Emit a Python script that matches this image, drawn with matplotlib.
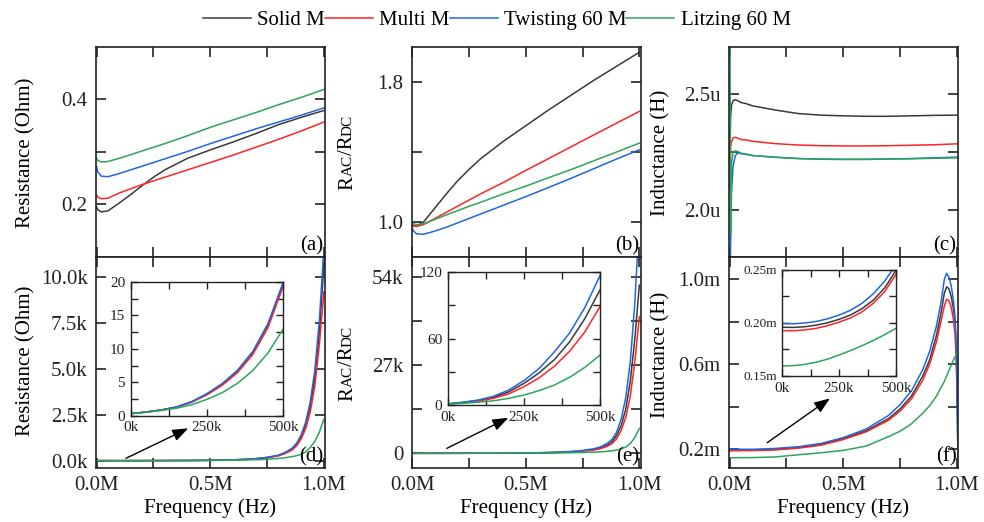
import matplotlib
matplotlib.use("Agg")
import matplotlib.pyplot as plt
from matplotlib.ticker import FixedLocator, MultipleLocator, FuncFormatter

plt.rcParams["font.family"] = ["Liberation Serif", "DejaVu Serif"]

names = ["Solid M", "Multi M", "Twisting 60 M", "Litzing 60 M"]
colors = ["#3a3a3a", "#ff2424", "#1f66e5", "#2ca55a"]

# (a) resistance, low range (Ohm) vs frequency (MHz)
xa = [0, 0.005, 0.02, 0.05, 0.1, 0.15, 0.2, 0.25, 0.3, 0.4, 0.5, 0.6, 0.7, 0.8, 0.9, 1.0]
res_solid = [0.195, 0.19, 0.186, 0.188, 0.203, 0.219, 0.236, 0.252, 0.266, 0.288, 0.304, 0.319, 0.335, 0.352, 0.366, 0.379]
res_multi = [0.218, 0.214, 0.211, 0.212, 0.222, 0.230, 0.238, 0.245, 0.252, 0.266, 0.280, 0.294, 0.309, 0.324, 0.340, 0.357]
res_twist = [0.272, 0.262, 0.254, 0.253, 0.259, 0.266, 0.273, 0.280, 0.287, 0.301, 0.316, 0.330, 0.344, 0.357, 0.370, 0.384]
res_litz = [0.288, 0.284, 0.281, 0.282, 0.288, 0.295, 0.302, 0.309, 0.316, 0.331, 0.347, 0.361, 0.375, 0.390, 0.404, 0.419]

# (b) Rac/Rdc, low range
rr_solid = [0.985, 0.978, 0.975, 1.0, 1.08, 1.16, 1.235, 1.3, 1.36, 1.46, 1.55, 1.64, 1.725, 1.81, 1.89, 1.97]
rr_multi = [0.985, 0.978, 0.975, 0.985, 1.02, 1.055, 1.09, 1.125, 1.16, 1.225, 1.295, 1.362, 1.43, 1.498, 1.565, 1.632]
rr_twist = [0.97, 0.95, 0.932, 0.93, 0.948, 0.97, 0.995, 1.02, 1.045, 1.095, 1.145, 1.197, 1.25, 1.305, 1.36, 1.413]
rr_litz = [0.998, 0.99, 0.985, 0.99, 1.015, 1.04, 1.065, 1.09, 1.112, 1.16, 1.205, 1.253, 1.3, 1.35, 1.4, 1.451]

# (c) inductance, low range (uH)
xc = [0, 0.004, 0.008, 0.015, 0.025, 0.035, 0.05, 0.07, 0.1, 0.2, 0.3, 0.4, 0.5, 0.6, 0.7, 0.8, 0.9, 1.0]
ind_solid = [2.2, 2.4, 2.45, 2.47, 2.474, 2.47, 2.462, 2.458, 2.448, 2.43, 2.415, 2.408, 2.405, 2.403, 2.403, 2.405, 2.407, 2.408]
ind_multi = [2.1, 2.27, 2.295, 2.31, 2.313, 2.31, 2.303, 2.302, 2.296, 2.286, 2.28, 2.277, 2.276, 2.276, 2.277, 2.279, 2.281, 2.285]
ind_twist = [1.4, 1.85, 2.08, 2.19, 2.235, 2.245, 2.243, 2.24, 2.235, 2.228, 2.222, 2.219, 2.218, 2.218, 2.22, 2.222, 2.225, 2.228]
ind_litz = [3.2, 1.9, 2.2, 2.25, 2.255, 2.252, 2.245, 2.242, 2.235, 2.227, 2.222, 2.22, 2.219, 2.219, 2.22, 2.221, 2.223, 2.225]

# (d) resistance, full range (kOhm)
xd = [0, 0.1, 0.2, 0.3, 0.4, 0.5, 0.6, 0.65, 0.7, 0.75, 0.8, 0.83, 0.86, 0.88, 0.9, 0.92, 0.94, 0.96, 0.98, 1.0]
rk_solid = [0.0003, 0.0009, 0.002, 0.005, 0.0095, 0.0198, 0.044, 0.068, 0.105, 0.17, 0.28, 0.42, 0.63, 0.88, 1.3, 1.95, 2.95, 4.5, 7.0, 10.6]
rk_multi = [0.0003, 0.0009, 0.002, 0.005, 0.0092, 0.0194, 0.042, 0.064, 0.1, 0.16, 0.26, 0.39, 0.58, 0.81, 1.18, 1.75, 2.65, 4.05, 6.3, 9.2]
rk_twist = [0.0003, 0.0009, 0.002, 0.005, 0.0096, 0.02, 0.045, 0.07, 0.11, 0.18, 0.3, 0.45, 0.68, 0.95, 1.4, 2.1, 3.2, 4.9, 7.6, 11.6]
rk_litz = [0.0003, 0.0008, 0.0017, 0.0035, 0.0068, 0.013, 0.025, 0.035, 0.05, 0.075, 0.12, 0.16, 0.22, 0.27, 0.35, 0.47, 0.72, 1.05, 1.55, 2.26]

# (e) Rac/Rdc, full range (k)
rrk_solid = [0.001, 0.004, 0.012, 0.029, 0.057, 0.104, 0.22, 0.33, 0.49, 0.76, 1.2, 1.7, 2.6, 3.6, 5.5, 8.5, 13.5, 22, 35, 51.6]
rrk_multi = [0.0009, 0.0036, 0.01, 0.024, 0.048, 0.089, 0.19, 0.28, 0.42, 0.65, 1.0, 1.45, 2.2, 3.0, 4.5, 7.0, 11.0, 17.5, 28, 41.9]
rrk_twist = [0.001, 0.0045, 0.0135, 0.033, 0.065, 0.117, 0.26, 0.38, 0.57, 0.88, 1.4, 2.0, 3.1, 4.3, 6.5, 10.5, 17, 28, 46, 72]
rrk_litz = [0.0008, 0.0025, 0.006, 0.013, 0.025, 0.045, 0.09, 0.12, 0.17, 0.25, 0.36, 0.46, 0.62, 0.78, 1.0, 1.35, 1.9, 3.0, 4.8, 7.7]

# (f) inductance, full range (mH)
xf = [0, 0.1, 0.2, 0.3, 0.4, 0.5, 0.6, 0.7, 0.75, 0.8, 0.85, 0.88, 0.91, 0.93, 0.945, 0.955,
      0.965, 0.975, 0.985, 0.992, 0.997, 1.0, 1.003, 1.006]
lm_solid = [0.196, 0.197, 0.2, 0.208, 0.222, 0.25, 0.287, 0.345, 0.39, 0.45, 0.545, 0.62, 0.735, 0.84,
            0.935, 0.965, 0.955, 0.92, 0.86, 0.79, 0.68, 0.53, 0.3, 0.08]
lm_multi = [0.193, 0.194, 0.197, 0.205, 0.219, 0.246, 0.282, 0.337, 0.38, 0.437, 0.525, 0.6, 0.705, 0.8,
            0.875, 0.906, 0.9, 0.87, 0.81, 0.74, 0.63, 0.5, 0.42, 0.37]
lm_twist = [0.2, 0.2, 0.204, 0.212, 0.227, 0.255, 0.295, 0.36, 0.41, 0.475, 0.575, 0.66, 0.78, 0.89,
            1.0, 1.028, 1.01, 0.97, 0.9, 0.82, 0.7, 0.55, 0.3, 0.05]
lm_litz = [0.16, 0.161, 0.164, 0.174, 0.1835, 0.195, 0.215, 0.26, 0.285, 0.32, 0.37, 0.405, 0.45, 0.49,
           0.52, 0.545, 0.57, 0.595, 0.62, 0.635, 0.645, 0.652, 0.656, 0.66]

# insets, 0-500 kHz
xi = [0, 50, 100, 150, 200, 250, 300, 350, 400, 450, 500]
id_solid = [0.3, 0.55, 0.85, 1.3, 2.08, 3.25, 4.75, 6.7, 9.5, 13.6, 19.8]
id_multi = [0.3, 0.55, 0.85, 1.28, 2.02, 3.12, 4.55, 6.45, 9.15, 13.2, 19.4]
id_twist = [0.3, 0.55, 0.85, 1.3, 2.1, 3.3, 4.8, 6.8, 9.6, 13.8, 20.0]
id_litz = [0.3, 0.5, 0.78, 1.12, 1.65, 2.45, 3.45, 4.85, 6.75, 9.4, 13.0]

ie_solid = [1, 2.3, 4, 7, 11.8, 19.5, 29, 41, 57, 78, 104]
ie_multi = [0.9, 2, 3.6, 6, 10, 16.5, 24.5, 35, 48.5, 66, 89]
ie_twist = [1, 2.5, 4.5, 7.8, 13.5, 22, 33, 48, 65, 88, 117]
ie_litz = [0.8, 1.5, 2.5, 3.8, 6, 9, 13, 18, 25, 34, 45]

if_solid = [0.196, 0.1958, 0.1965, 0.198, 0.2003, 0.2035, 0.2075, 0.2135, 0.2215, 0.233, 0.2497]
if_multi = [0.1928, 0.1927, 0.1935, 0.195, 0.1975, 0.2008, 0.2048, 0.2105, 0.2185, 0.2295, 0.246]
if_twist = [0.1995, 0.1993, 0.2, 0.2015, 0.204, 0.2075, 0.212, 0.2185, 0.2275, 0.2395, 0.255]
if_litz = [0.1594, 0.1598, 0.161, 0.163, 0.166, 0.1698, 0.174, 0.1785, 0.1835, 0.189, 0.195]

W, H = 984, 522
fig = plt.figure(figsize=(W / 100, H / 100), dpi=100)


def px_axes(left, top, right, bottom):
    return fig.add_axes([left / W, 1 - bottom / H, (right - left) / W, (bottom - top) / H])


def style(ax, size=15, length=7, width=1.2, pad=6):
    for sp in ax.spines.values():
        sp.set_linewidth(width)
        sp.set_color("#222222")
    ax.tick_params(which="both", direction="in", top=True, right=True, length=length,
                   width=width, labelsize=size, pad=pad, colors="#222222", labelcolor="#222222")


def fmt(pattern):
    return FuncFormatter(lambda v, p: pattern.format(v))


cols = [96, 411.5, 729]
top_axes = [px_axes(c, 47, c + 229, 257) for c in cols]
bot_axes = [px_axes(c, 257, c + 229, 468) for c in cols]

top_data = [(xa, [res_solid, res_multi, res_twist, res_litz]),
            (xa, [rr_solid, rr_multi, rr_twist, rr_litz]),
            (xc, [ind_solid, ind_multi, ind_twist, ind_litz])]
bot_data = [(xd, [rk_solid, rk_multi, rk_twist, rk_litz]),
            (xd, [rrk_solid, rrk_multi, rrk_twist, rrk_litz]),
            (xf, [lm_solid, lm_multi, lm_twist, lm_litz])]

for ax, (x, series) in zip(top_axes + bot_axes, top_data + bot_data):
    for y, c, n in zip(series, colors, names):
        ax.plot(x, y, color=c, lw=1.1, label=n)
    ax.set_xlim(-0.003, 1.005)
    ax.xaxis.set_major_locator(FixedLocator([0, 0.5, 1.0]))
    ax.xaxis.set_minor_locator(FixedLocator([0.25, 0.75]))
    ax.xaxis.set_major_formatter(fmt("{:.1f}M"))
    style(ax)

for ax in top_axes:
    ax.tick_params(labelbottom=False)

# y axes of the six panels
a, b, c = top_axes
a.set_ylim(0.1, 0.5)
a.yaxis.set_major_locator(FixedLocator([0.2, 0.4]))
a.yaxis.set_minor_locator(FixedLocator([0.3]))
b.set_ylim(0.8, 2.0)
b.yaxis.set_major_locator(FixedLocator([1.0, 1.8]))
b.yaxis.set_minor_locator(FixedLocator([1.4]))
c.set_ylim(1.8, 2.7)
c.yaxis.set_major_locator(FixedLocator([2.0, 2.5]))
c.yaxis.set_minor_locator(FixedLocator([2.25]))
c.yaxis.set_major_formatter(fmt("{:.1f}u"))

d, e, f = bot_axes
d.set_ylim(-0.4, 11.1)
d.yaxis.set_major_locator(MultipleLocator(2.5))
d.yaxis.set_major_formatter(fmt("{:.1f}k"))
e.set_ylim(-4.5, 60.2)
e.yaxis.set_major_locator(FixedLocator([0, 27, 54]))
e.yaxis.set_minor_locator(FixedLocator([13.5, 40.5]))
e.yaxis.set_major_formatter(FuncFormatter(lambda v, p: "0" if v == 0 else "{:.0f}k".format(v)))
f.set_ylim(0.112, 1.105)
f.yaxis.set_major_locator(FixedLocator([0.2, 0.6, 1.0]))
f.yaxis.set_minor_locator(FixedLocator([0.4, 0.8]))
f.yaxis.set_major_formatter(fmt("{:.1f}m"))

for ax, lab in zip(top_axes + bot_axes, ["(a)", "(b)", "(c)", "(d)", "(e)", "(f)"]):
    ax.text(0.993, 0.008, lab, transform=ax.transAxes, ha="right", va="bottom", fontsize=15)

# insets
inset_boxes = [(130.7, 282, 283.3, 415.7), (447.7, 272.3, 600, 405), (782.3, 270, 896, 376)]
inset_data = [[id_solid, id_multi, id_twist, id_litz],
              [ie_solid, ie_multi, ie_twist, ie_litz],
              [if_solid, if_multi, if_twist, if_litz]]
insets = []
for box, series in zip(inset_boxes, inset_data):
    ia = px_axes(*box)
    for y, col in zip(series, colors):
        ia.plot(xi, y, color=col, lw=1.1)
    ia.set_xlim(0, 500)
    ia.xaxis.set_major_locator(FixedLocator([0, 250, 500]))
    ia.xaxis.set_minor_locator(FixedLocator([125, 375]))
    ia.xaxis.set_major_formatter(fmt("{:.0f}k"))
    style(ia, size=11, length=5, width=1.0, pad=4)
    insets.append(ia)

insets[0].set_ylim(0, 20)
insets[0].yaxis.set_major_locator(MultipleLocator(5))
insets[0].yaxis.set_minor_locator(MultipleLocator(2.5))
insets[1].set_ylim(0, 120)
insets[1].yaxis.set_major_locator(MultipleLocator(60))
insets[1].yaxis.set_minor_locator(MultipleLocator(30))
insets[2].set_ylim(0.15, 0.25)
insets[2].yaxis.set_major_locator(FixedLocator([0.15, 0.2, 0.25]))
insets[2].yaxis.set_minor_locator(FixedLocator([0.175, 0.225]))
insets[2].yaxis.set_major_formatter(fmt("{:.2f}m"))
insets[2].tick_params(axis="y", labelsize=9.5)

# arrows pointing from the low-frequency region to each inset
arrows = [((0.131, 0.046), (0.403, 0.188)),
          ((0.154, 0.093), (0.423, 0.238)),
          ((0.167, 0.12), (0.441, 0.33))]
for ax, (tail, head) in zip(bot_axes, arrows):
    ax.annotate("", xy=head, xytext=tail, xycoords="axes fraction", textcoords="axes fraction",
                arrowprops=dict(arrowstyle="-|>,head_length=0.8,head_width=0.3", color="black",
                                lw=1.0, mutation_scale=12, shrinkA=0, shrinkB=0))

# axis labels
for cx in [210.5, 525.5, 843]:
    fig.text(cx / W, 1 - 508 / H, "Frequency (Hz)", ha="center", va="center", fontsize=15)
for x, y, s in [(26, 152.7, "Resistance (Ohm)"), (26, 360.8, "Resistance (Ohm)"),
                (661, 152.5, "Inductance (H)"), (661, 355, "Inductance (H)")]:
    fig.text(x / W, 1 - y / H, s, rotation=90, ha="center", va="center", fontsize=15)


def rac_label(x_px, yc_px):
    parts = [("R", 15), ("AC", 11), ("/R", 15), ("DC", 11)]
    texts = [fig.text(0, 0, s, fontsize=fs, rotation=90, rotation_mode="anchor",
                      ha="left", va="baseline") for s, fs in parts]
    r = fig.canvas.get_renderer()
    hs = [t.get_window_extent(r).height for t in texts]
    y = (H - yc_px) - sum(hs) / 2
    for t, h in zip(texts, hs):
        t.set_position((x_px / W, y / H))
        y += h


rac_label(352, 152.5)
rac_label(352, 363.3)

handles, labels = top_axes[0].get_legend_handles_labels()
fig.legend(handles, labels, loc="center", bbox_to_anchor=(0.505, 1 - 20 / H), ncol=4,
           frameon=False, fontsize=15, handlelength=2.3, handletextpad=0.3, columnspacing=0.0)

fig.savefig("out.png", dpi=100)
